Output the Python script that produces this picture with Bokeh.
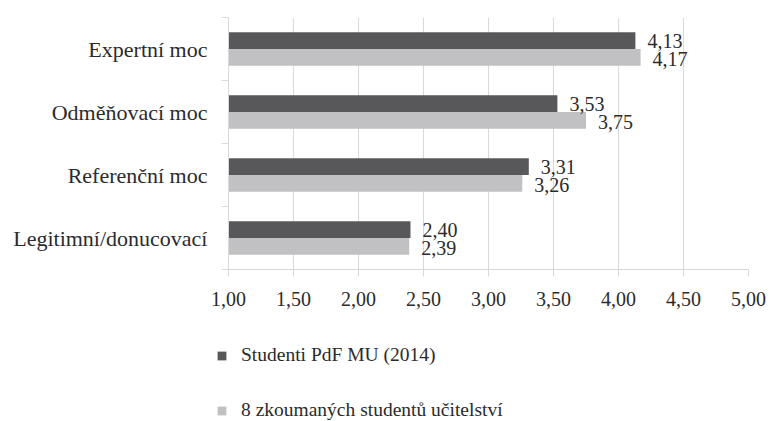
from bokeh.plotting import figure
from bokeh.models import (ColumnDataSource, FixedTicker, Legend, LegendItem, Range1d)
from bokeh.transform import dodge
from bokeh.embed import file_html
from bokeh.resources import INLINE
from bokeh.core.properties import value

categories = ["Expertní moc", "Odměňovací moc", "Referenční moc", "Legitimní/donucovací"]
series_names = ["Studenti PdF MU (2014)", "8 zkoumaných studentů učitelství"]
studenti_pdf = [4.13, 3.53, 3.31, 2.40]
zkoumani = [4.17, 3.75, 3.26, 2.39]
x_ticks = [1.0, 1.5, 2.0, 2.5, 3.0, 3.5, 4.0, 4.5, 5.0]

DARK = "#58585b"
LIGHT = "#c1c1c3"
GRID = "#d9d9d9"
FONT = "Liberation Serif"
TXT = "#2b2b2b"

n = len(categories)
ypos = [n - 1 - i for i in range(n)]

def fmt(v):
    return f"{v:.2f}".replace(".", ",")

src = ColumnDataSource(dict(
    y=ypos,
    a=studenti_pdf,
    b=zkoumani,
    al=[fmt(v) for v in studenti_pdf],
    bl=[fmt(v) for v in zkoumani],
    base=[x_ticks[0]] * n,
))

W = 771
p = figure(width=W, height=315, output_backend="svg", toolbar_location=None,
           x_range=Range1d(x_ticks[0], x_ticks[-1]), y_range=Range1d(-0.5, n - 0.5),
           min_border_left=228, min_border_right=23, min_border_top=17, min_border_bottom=46)
p.outline_line_color = None
p.background_fill_color = "white"
p.border_fill_color = "white"

bh = 0.265
r1 = p.hbar(y=dodge("y", bh / 2, range=p.y_range), left="base", right="a", height=bh,
            source=src, fill_color=DARK, line_color=None)
r2 = p.hbar(y=dodge("y", -bh / 2, range=p.y_range), left="base", right="b", height=bh,
            source=src, fill_color=LIGHT, line_color=None)

p.text(x="a", y=dodge("y", bh / 2, range=p.y_range), text="al", source=src,
       x_offset=12, text_baseline="middle", text_font=value(FONT),
       text_font_size="20px", text_color=TXT)
p.text(x="b", y=dodge("y", -bh / 2 - 0.03, range=p.y_range), text="bl", source=src,
       x_offset=12, text_baseline="middle", text_font=value(FONT),
       text_font_size="20px", text_color=TXT)

# x axis
p.xaxis.ticker = FixedTicker(ticks=x_ticks)
p.xaxis.major_label_overrides = {t: fmt(t) for t in x_ticks}
p.xaxis.major_label_text_font = FONT
p.xaxis.major_label_text_font_size = "20px"
p.xaxis.major_label_text_color = TXT
p.xaxis.axis_line_color = GRID
p.xaxis.major_tick_line_color = GRID
p.xaxis.major_tick_in = 0
p.xaxis.major_tick_out = 7
p.xaxis.minor_tick_line_color = None
p.xaxis.major_label_standoff = 15

# y axis: labels at centres, ticks at band boundaries
p.yaxis.ticker = FixedTicker(ticks=ypos, minor_ticks=[i - 0.5 for i in range(n + 1)])
p.yaxis.major_label_overrides = {y: c for y, c in zip(ypos, categories)}
p.yaxis.major_label_text_font = FONT
p.yaxis.major_label_text_font_size = "22px"
p.yaxis.major_label_text_color = TXT
p.yaxis.axis_line_color = GRID
p.yaxis.major_tick_line_color = None
p.yaxis.minor_tick_line_color = GRID
p.yaxis.minor_tick_in = 0
p.yaxis.minor_tick_out = 7
p.yaxis.major_label_standoff = 14

p.xgrid.ticker = FixedTicker(ticks=x_ticks)
p.xgrid.grid_line_color = GRID
p.ygrid.grid_line_color = None

# legend panel: a separate root so the legend is neither clipped nor frame-aligned.
# Its renderers draw the same series, but outside the visible x range.
lg = figure(width=W, height=106, output_backend="svg", toolbar_location=None,
            x_axis_type=None, y_axis_type=None, min_border=0,
            x_range=Range1d(-1, 0), y_range=Range1d(-0.5, n - 0.5))
lg.outline_line_color = None
lg.xgrid.grid_line_color = None
lg.ygrid.grid_line_color = None
d1 = lg.hbar(y="y", left="base", right="a", height=bh, source=src, fill_color=DARK, line_color=None)
d2 = lg.hbar(y="y", left="base", right="b", height=bh, source=src, fill_color=LIGHT, line_color=None)

legend = Legend(items=[LegendItem(label=series_names[0], renderers=[d1]),
                       LegendItem(label=series_names[1], renderers=[d2])],
                orientation="vertical", location=(216, 0))
legend.label_text_font = FONT
legend.label_text_font_size = "19.5px"
legend.label_text_color = TXT
legend.glyph_width = 11
legend.glyph_height = 11
legend.label_height = 14
legend.label_standoff = 14
legend.spacing = 33
legend.padding = 0
legend.margin = 0
legend.border_line_color = None
legend.background_fill_alpha = 0
lg.add_layout(legend, "center")

open("out.html", "w").write(file_html((p, lg), INLINE))
